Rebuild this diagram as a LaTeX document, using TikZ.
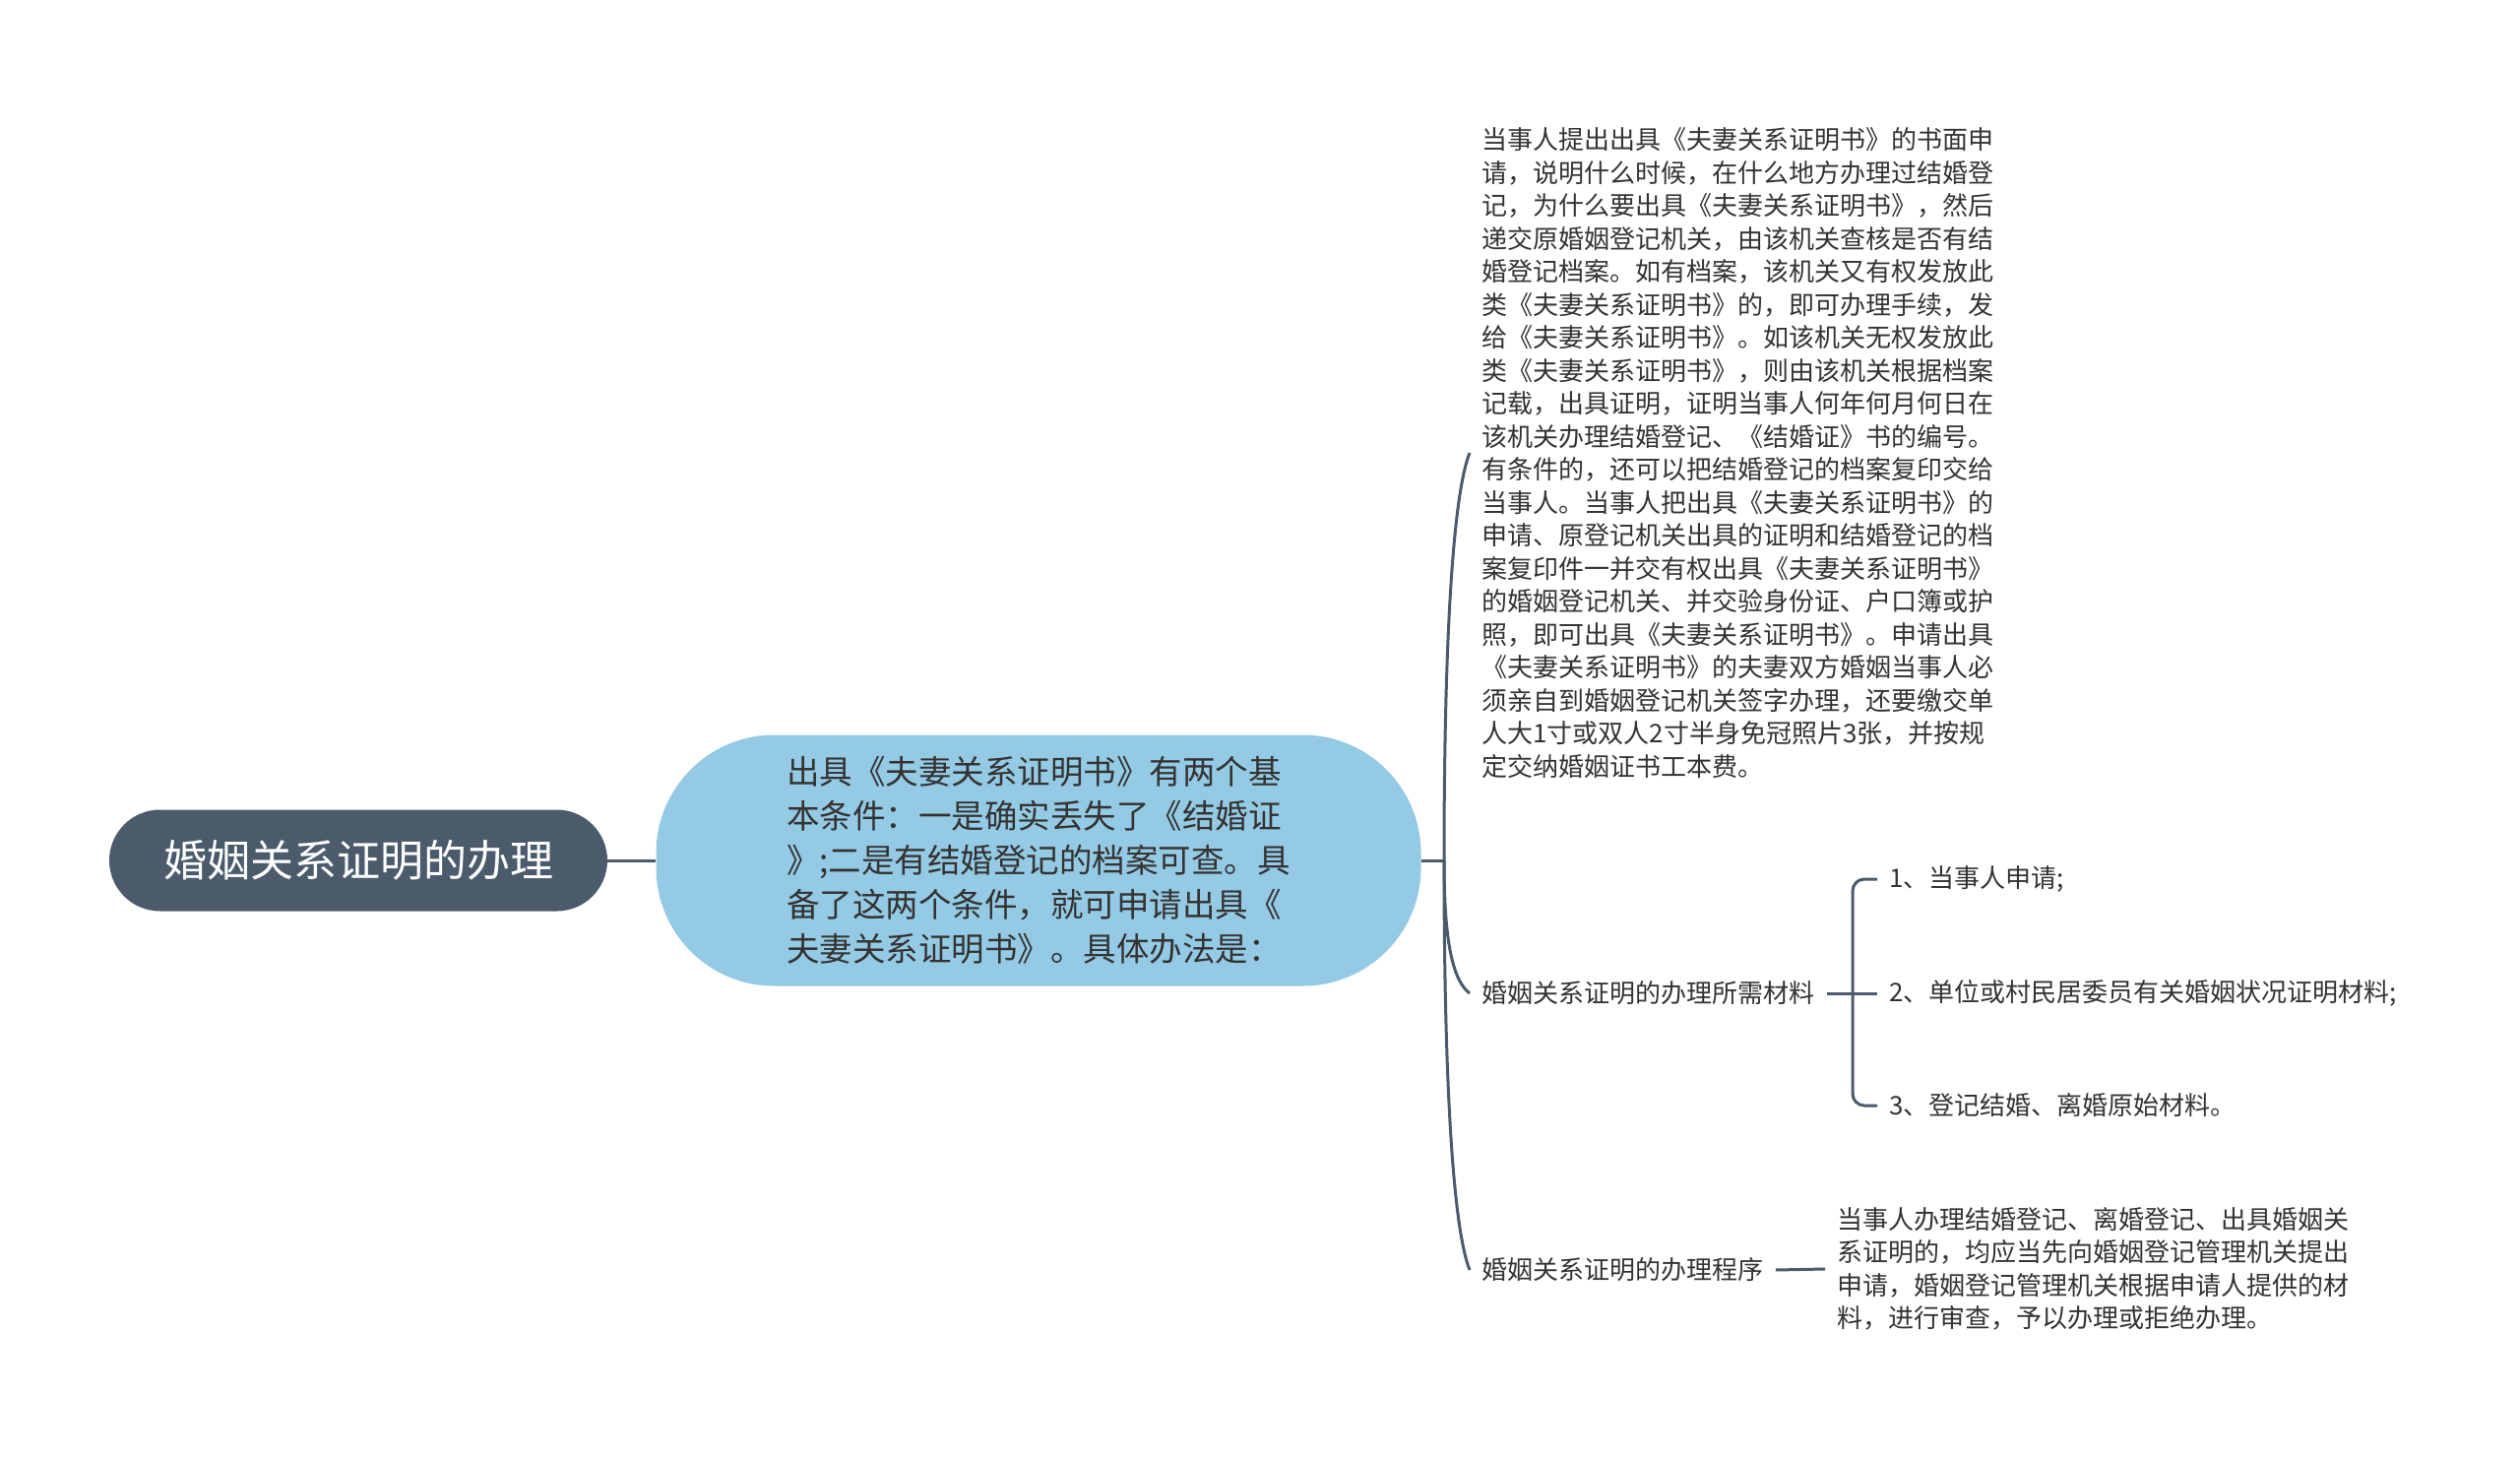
\documentclass[tikz,border=0pt]{standalone}
\usepackage{fontspec}
\setmainfont{Noto Sans CJK SC}
\usepackage{tikz}
\definecolor{slate}{HTML}{4B5B6B}
\definecolor{skyfill}{HTML}{95CAE4}
\definecolor{inktext}{HTML}{333333}
\tikzset{rootbox/.style={fill=slate, text=white, rounded corners=25.75pt,
    minimum width=253pt, minimum height=51.5pt,
    font=\fontsize{22pt}{26pt}\selectfont},
  condbox/.style={fill=skyfill, text=inktext, rounded corners=60pt,
    minimum width=388.5pt, minimum height=127.5pt, align=left,
    font=\fontsize{16.75pt}{22.5pt}\selectfont},
  leaf/.style={anchor=west, inner xsep=6pt, inner ysep=0pt, text=inktext,
    align=left, font=\fontsize{13pt}{16.75pt}\selectfont},
  link/.style={draw=slate, line width=1.5pt},
  twig/.style={draw=slate, line width=1.5pt, rounded corners=6pt}}

\begin{document}
\begin{tikzpicture}[x=0.5pt,y=-0.5pt]
  \fill[white] (0,0) rectangle (2560,1481);
  \useasboundingbox (0,0) rectangle (2560,1481);
  \node[rootbox] (root) at (364,874) {婚姻关系证明的办理};
  \node[condbox] (cond) at (1055,874) {出具《夫妻关系证明书》有两个基\\
    本条件：一是确实丢失了《结婚证\\
    》;二是有结婚登记的档案可查。具\\
    备了这两个条件，就可申请出具《\\
    夫妻关系证明书》。具体办法是：};
  \coordinate (spine) at (1467,874);
  \node[leaf] (detail) at (1493,460) {当事人提出出具《夫妻关系证明书》的书面申\\
    请，说明什么时候，在什么地方办理过结婚登\\
    记，为什么要出具《夫妻关系证明书》，然后\\
    递交原婚姻登记机关，由该机关查核是否有结\\
    婚登记档案。如有档案，该机关又有权发放此\\
    类《夫妻关系证明书》的，即可办理手续，发\\
    给《夫妻关系证明书》。如该机关无权发放此\\
    类《夫妻关系证明书》，则由该机关根据档案\\
    记载，出具证明，证明当事人何年何月何日在\\
    该机关办理结婚登记、《结婚证》书的编号。\\
    有条件的，还可以把结婚登记的档案复印交给\\
    当事人。当事人把出具《夫妻关系证明书》的\\
    申请、原登记机关出具的证明和结婚登记的档\\
    案复印件一并交有权出具《夫妻关系证明书》\\
    的婚姻登记机关、并交验身份证、户口簿或护\\
    照，即可出具《夫妻关系证明书》。申请出具\\
    《夫妻关系证明书》的夫妻双方婚姻当事人必\\
    须亲自到婚姻登记机关签字办理，还要缴交单\\
    人大1寸或双人2寸半身免冠照片3张，并按规\\
    定交纳婚姻证书工本费。};
  \node[leaf] (needs) at (1493,1009) {婚姻关系证明的办理所需材料};
  \node[leaf] (proc) at (1493,1290) {婚姻关系证明的办理程序};
  \coordinate (needsbr) at (1882,1009);
  \node[leaf] (item1) at (1907,893) {1、当事人申请;};
  \node[leaf] (item2) at (1907,1009) {2、单位或村民居委员有关婚姻状况证明材料;};
  \node[leaf] (item3) at (1907,1123) {3、登记结婚、离婚原始材料。};
  \node[leaf] (procdesc) at (1854,1289) {当事人办理结婚登记、离婚登记、出具婚姻关\\
    系证明的，均应当先向婚姻登记管理机关提出\\
    申请，婚姻登记管理机关根据申请人提供的材\\
    料，进行审查，予以办理或拒绝办理。};
  \draw[link] (root.east) -- (cond.west);
  \draw[link] (cond.east) -- (spine);
  \draw[link] (spine) .. controls +(0,-210) and +(-18,45) .. (detail.west);
  \draw[link] (spine) .. controls +(0,70) and +(-20,-15) .. (needs.west);
  \draw[link] (spine) .. controls +(0,210) and +(-18,-45) .. (proc.west);
  \draw[link] (needs.east) -- (item2.west);
  \draw[twig] (item1.west) -| (needsbr) |- (item3.west);
  \draw[link] (proc.east) -- (procdesc.west);
\end{tikzpicture}
\end{document}
